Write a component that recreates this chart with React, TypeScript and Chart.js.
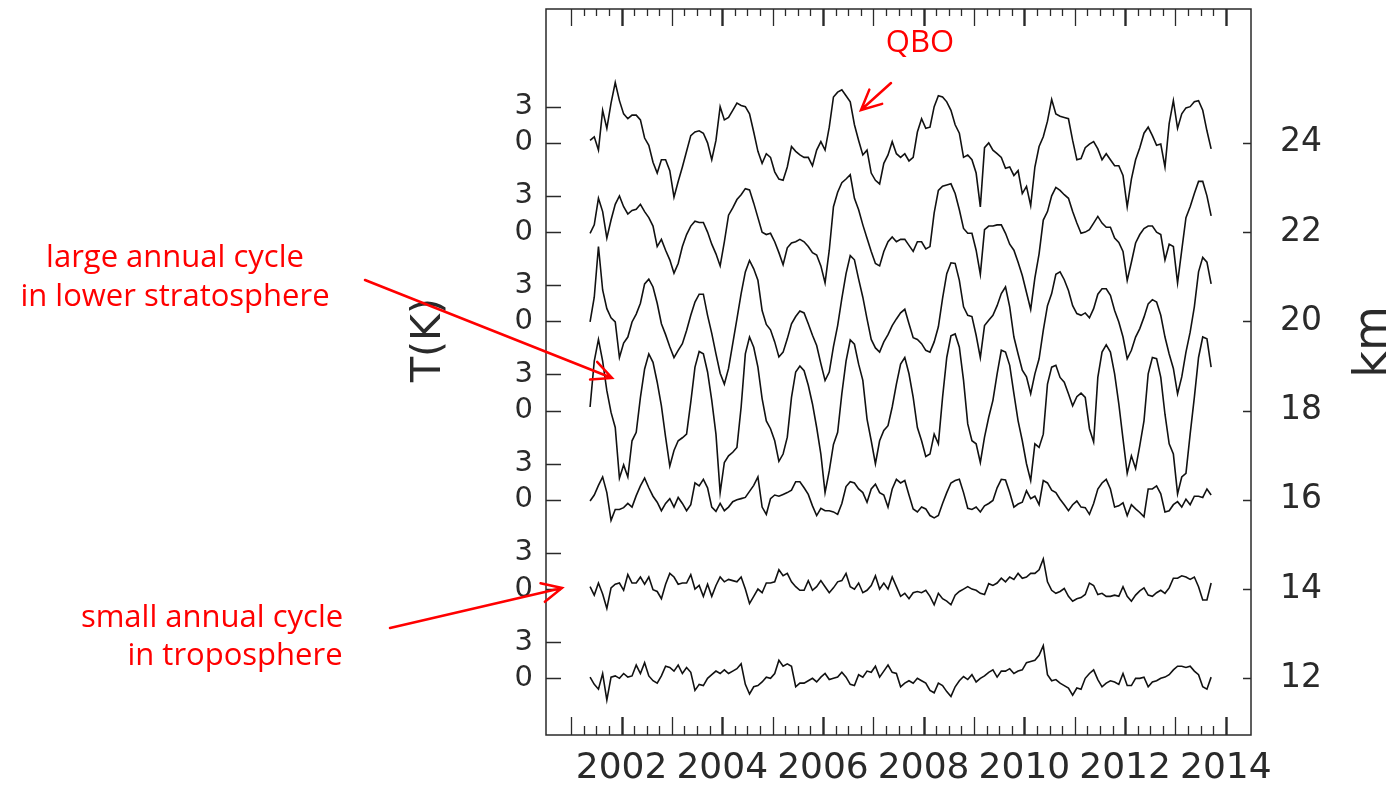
import React, { useEffect, useRef } from 'react';
import { Chart, registerables } from 'chart.js';

Chart.register(...registerables);

// ---- axes / layout values ----
const START_YEAR = 2001.375; // first monthly sample (mid-May 2001)
const X_MIN = 2000.5;
const X_MAX = 2014.5;
const Y_MIN = 10.73;
const Y_MAX = 27.0;
const KM_PER_K = 0.2705; // vertical scale of the temperature anomalies
const LEVELS_KM = [24, 22, 20, 18, 16, 14, 12];
const YEAR_LABELS = [2002, 2004, 2006, 2008, 2010, 2012, 2014];
const K_TICKS = [0, 3];
const FIRST_TICK_YEAR = 2001;
const LAST_TICK_YEAR = 2014;

// ---- temperature anomalies (K), monthly ----
const T24 = [
  0.2, 0.5, -0.6, 2.7, 1.2, 3.3, 5.0, 3.5, 2.4, 2.0,
  2.3, 2.3, 1.9, 0.4, -0.2, -1.6, -2.5, -1.4, -1.4, -2.3,
  -4.5, -3.2, -2.0, -0.7, 0.6, 0.9, 1.0, 0.8, 0.0, -1.4,
  0.2, 3.0, 1.9, 2.1, 2.7, 3.3, 3.1, 3.0, 2.4, 0.9,
  -0.7, -1.7, -0.9, -1.2, -2.4, -3.0, -3.1, -2.0, -0.3, -0.7,
  -1.0, -1.2, -1.2, -1.9, -0.6, 0.1, -0.6, 1.3, 3.8, 4.2,
  4.4, 3.9, 3.4, 1.5, 0.2, -1.0, -0.6, -2.5, -3.1, -3.4,
  -1.7, -1.0, 0.1, -0.9, -1.2, -0.9, -1.5, -1.2, 0.9, 2.0,
  1.2, 1.3, 3.0, 3.9, 3.8, 3.4, 2.7, 1.5, 0.8, -1.2,
  -1.0, -1.4, -2.5, -5.3, -0.4, 0.0, -0.6, -0.9, -1.2, -2.1,
  -2.0, -2.7, -2.3, -4.2, -3.6, -5.2, -2.0, -0.3, 0.5, 1.8,
  3.6, 2.4, 2.2, 2.1, 2.0, 0.2, -1.4, -1.3, -0.4, -0.1,
  0.1, -0.5, -1.4, -0.9, -1.4, -1.9, -1.9, -2.7, -5.3, -3.0,
  -1.4, -0.4, 0.8, 1.3, 0.6, -0.2, -0.1, -2.0, 1.6, 3.5,
  1.2, 2.4, 2.9, 3.0, 3.4, 3.5, 2.7, 1.0, -0.5,
];
const T22 = [
  -0.1, 0.6, 2.8, 1.7, -0.5, 1.0, 2.3, 3.0, 2.1, 1.5,
  1.8, 1.9, 2.3, 1.7, 1.2, 0.5, -1.2, -0.6, -1.5, -2.3,
  -3.4, -2.6, -1.2, -0.2, 0.5, 0.9, 0.8, 0.8, 0.0, -1.0,
  -1.8, -2.8, -0.8, 1.4, 2.0, 2.7, 3.1, 3.6, 3.5, 2.4,
  1.2, 0.0, -0.2, -0.1, -0.8, -1.7, -2.7, -1.3, -0.9, -0.8,
  -0.6, -0.8, -1.2, -1.7, -1.9, -2.8, -4.2, -1.5, 2.1, 3.3,
  4.1, 4.4, 4.75, 2.8, 1.85, 0.6, -0.5, -1.6, -2.6, -2.8,
  -1.6, -0.8, -0.4, -0.8, -0.6, -0.6, -1.1, -1.6, -0.8, -0.8,
  -1.4, -1.2, 1.6, 3.45, 3.8, 3.9, 4.0, 3.2, 1.85, 0.3,
  -0.1, -0.1, -1.5, -3.5, 0.2, 0.5, 0.5, 0.6, 0.6, -0.1,
  -1.0, -1.5, -2.5, -3.6, -5.0, -6.4, -3.8, -1.8, 1.0, 1.7,
  3.0, 3.7, 3.45, 3.1, 2.8, 1.7, 0.75, -0.1, 0.0, 0.2,
  0.75, 1.3, 0.75, 0.4, 0.4, -0.5, -0.85, -1.6, -4.0, -2.5,
  -0.9, -0.2, 0.3, 0.5, 0.5, 0.0, -0.2, -2.3, -1.0, -1.2,
  -4.2, -1.5, 1.2, 2.1, 3.2, 4.2, 4.2, 3.0, 1.35,
];
const T20 = [
  -0.05, 2.0, 6.2, 2.6, 1.05, 0.3, -0.05, -3.0, -1.8, -1.3,
  -0.05, 0.6, 1.5, 3.1, 3.5, 2.85, 1.5, -0.2, -1.1, -2.1,
  -3.0, -2.4, -1.85, -0.75, 0.5, 1.6, 2.25, 2.25, 0.5, -1.0,
  -2.7, -4.3, -5.2, -3.9, -1.85, 0.2, 2.3, 4.1, 5.05, 4.35,
  3.4, 0.9, -0.25, -0.7, -1.7, -2.95, -2.55, -1.45, -0.2, 0.4,
  0.85, 0.7, -0.2, -1.15, -2.0, -3.5, -4.9, -4.2, -2.1, -0.35,
  1.9, 3.95, 5.45, 5.1, 3.5, 2.0, 0.2, -1.5, -2.2, -2.55,
  -1.7, -1.1, -0.35, 0.2, 0.7, 1.0, -0.2, -1.35, -1.5, -1.85,
  -2.4, -2.55, -1.7, -0.45, 1.9, 3.95, 4.85, 4.8, 3.4, 1.2,
  0.5, 0.4, -1.15, -3.0, -0.35, 0.1, 0.5, 1.3, 2.3, 2.85,
  1.2, -1.3, -2.7, -4.05, -4.6, -6.0, -4.35, -3.1, -0.75, 1.3,
  2.3, 3.9, 4.1, 3.45, 2.55, 1.3, 0.65, 0.5, 0.7, 0.3,
  1.05, 2.25, 2.7, 2.7, 2.15, 0.9, -0.05, -1.3, -3.1, -2.4,
  -1.3, -0.6, 0.35, 1.45, 1.8, 1.6, 0.5, -1.3, -2.7, -3.9,
  -6.0, -4.6, -2.55, -0.9, 1.2, 4.1, 5.3, 4.9, 3.1,
];
const T18 = [
  0.3, 4.1, 5.9, 4.1, 1.65, -0.15, -1.4, -5.6, -4.5, -5.5,
  -2.5, -1.8, 1.1, 3.45, 4.7, 4.0, 2.35, 0.4, -2.2, -4.6,
  -3.3, -2.5, -2.25, -1.95, 0.7, 3.6, 4.9, 4.7, 3.2, 0.85,
  -1.95, -6.8, -4.3, -3.75, -3.45, -3.05, 0.3, 4.7, 6.1, 5.25,
  3.6, 1.0, -0.85, -1.5, -2.5, -4.2, -3.6, -2.2, 1.1, 3.2,
  3.7, 3.3, 2.1, 0.55, -1.4, -3.6, -6.8, -5.0, -2.8, -1.8,
  1.4, 4.1, 5.85, 5.5, 3.85, 2.5, -0.7, -2.5, -4.4, -2.5,
  -1.65, -1.25, 0.3, 2.2, 3.85, 4.4, 3.05, 1.1, -1.4, -2.5,
  -3.8, -3.6, -1.95, -2.75, 1.1, 4.4, 6.2, 6.35, 5.25, 2.5,
  -1.1, -2.5, -2.75, -4.3, -2.2, -0.55, 0.85, 3.05, 5.0, 4.85,
  3.75, 1.4, -0.85, -2.5, -4.4, -5.8, -2.75, -3.05, -1.95, 2.2,
  3.6, 3.75, 2.75, 2.35, 1.4, 0.4, 1.15, 1.45, 1.1, -1.5,
  -2.6, 2.75, 4.85, 5.45, 4.85, 3.05, 0.55, -2.35, -5.2, -3.75,
  -4.8, -2.9, -0.85, 3.05, 4.4, 4.3, 2.75, -0.3, -2.75, -3.6,
  -6.9, -5.5, -5.2, -1.95, 1.1, 4.4, 6.1, 5.95, 3.6,
];
const T16 = [
  -0.1, 0.4, 1.2, 1.9, 0.6, -1.7, -0.8, -0.8, -0.65, -0.3,
  -0.6, 0.35, 1.15, 1.8, 1.0, 0.3, -0.2, -0.9, -0.3, 0.1,
  -0.6, 0.2, -0.3, -0.9, -0.4, 1.4, 1.15, 1.7, 1.0, -0.6,
  -0.95, -0.3, -0.9, -0.6, -0.15, 0.0, 0.1, 0.2, 0.7, 1.2,
  1.9, -0.6, -1.2, 0.1, 0.4, 0.3, 0.45, 0.6, 0.8, 1.5,
  1.5, 1.0, 0.45, -0.5, -1.3, -0.7, -0.9, -0.9, -1.0, -1.2,
  -0.3, 1.1, 1.5, 1.4, 0.9, 0.6, -0.2, 0.9, 1.3, 0.6,
  0.4, -0.6, 0.9, 1.7, 1.4, 1.6, 0.4, -0.75, -1.0, -0.6,
  -0.75, -1.3, -1.5, -1.3, -0.3, 0.6, 1.4, 1.6, 1.7, 0.6,
  -0.7, -0.8, -0.6, -1.0, -0.5, -0.3, -0.05, 1.0, 1.7, 1.65,
  0.6, -0.6, -0.35, -0.2, 0.75, 0.1, 0.3, -0.4, 1.6, 1.4,
  0.8, 0.6, 0.05, -0.4, -0.9, -0.4, -0.1, -0.6, -0.65, -1.2,
  -0.3, 0.9, 1.4, 1.7, 0.9, -0.6, -0.5, -0.25, -1.3, -0.4,
  -0.75, -1.05, -1.4, 0.9, 0.9, 1.15, 0.5, -1.0, -0.9, -0.4,
  -0.15, -0.6, 0.05, -0.4, 0.3, 0.3, 0.2, 0.9, 0.4,
];
const T14 = [
  0.2, -0.5, 0.5, -0.4, -1.6, 0.1, 0.4, 0.5, -0.1, 1.2,
  0.5, 0.5, 1.0, 0.4, 1.0, -0.05, -0.2, -0.8, 0.4, 1.3,
  1.0, 0.4, 0.5, 0.5, 1.2, 0.0, 0.3, -0.6, 0.4, -0.6,
  0.3, 1.0, 0.6, 0.8, 0.7, 0.6, 1.0, 0.0, -1.2, -0.6,
  0.0, -0.3, 0.5, 0.5, 0.6, 1.6, 1.1, 1.3, 0.6, 0.2,
  -0.1, -0.1, 0.7, -0.1, 0.2, 0.7, 0.2, -0.3, 0.1, 0.6,
  0.7, 1.3, 0.2, 0.0, 0.5, -0.3, -0.1, 0.3, 1.1, 0.0,
  0.5, 0.0, 1.0, 0.2, -0.6, -0.35, -0.8, -0.3, -0.2, -0.3,
  -0.1, -0.6, -1.3, -0.35, -0.8, -1.0, -1.3, -0.5, -0.2, 0.0,
  0.2, 0.0, -0.1, -0.35, -0.45, 0.45, 0.3, 0.5, 0.9, 0.6,
  1.0, 0.8, 1.3, 0.9, 1.0, 1.3, 1.3, 1.6, 2.5, 0.6,
  -0.1, -0.35, -0.2, 0.05, -0.6, -1.0, -0.8, -0.7, -0.45, 0.5,
  0.3, -0.45, -0.35, -0.6, -0.6, -0.5, -0.6, 0.2, -0.6, -1.0,
  -0.5, -0.15, 0.1, -0.5, -0.6, -0.3, -0.1, -0.35, 0.1, 0.9,
  0.9, 1.1, 1.0, 0.8, 1.0, 0.2, -0.9, -0.9, 0.5,
];
const T12 = [
  0.1, -0.5, -0.9, 0.4, -1.8, 0.1, 0.2, 0.0, 0.4, 0.1,
  0.2, 1.1, 0.4, 1.3, 0.2, -0.2, -0.4, 0.2, 1.0, 0.9,
  0.6, 1.1, 0.4, 0.9, 0.5, -1.0, -0.5, -0.6, 0.0, 0.3,
  0.6, 0.4, 0.7, 0.4, 0.6, 0.8, 1.2, -0.5, -1.3, -0.7,
  -0.6, -0.3, 0.1, 0.0, 0.4, 1.5, 1.0, 1.2, 1.0, -0.7,
  -0.4, -0.4, -0.2, 0.0, -0.3, 0.1, 0.4, -0.1, 0.0, 0.1,
  0.5, 0.1, -0.5, -0.6, 0.3, 0.1, 0.6, 0.5, 1.0, 0.1,
  0.6, 1.1, 0.5, 0.4, -0.7, -0.4, -0.2, -0.4, 0.0, -0.2,
  -0.4, -1.0, -1.2, -0.4, -0.6, -1.1, -1.5, -0.7, -0.2, 0.15,
  -0.1, 0.3, -0.3, 0.0, 0.2, 0.5, 0.7, 0.1, 0.6, 0.6,
  0.8, 0.4, 0.6, 0.7, 1.3, 1.4, 1.5, 1.9, 2.7, 0.3,
  -0.2, -0.1, -0.4, -0.6, -0.8, -1.4, -0.8, -0.9, 0.0, 0.4,
  0.7, -0.1, -0.7, -0.4, -0.2, -0.3, -0.5, 0.4, -0.6, -0.6,
  0.0, 0.0, 0.1, -0.7, -0.3, -0.2, 0.0, 0.1, 0.3, 0.7,
  1.0, 1.0, 0.9, 1.0, 0.6, 0.3, -0.7, -0.9, 0.1,
];
const SERIES = [T24, T22, T20, T18, T16, T14, T12];

// ---- annotation texts ----
const ANNOTATIONS = [
  { text: 'QBO', x: 920, y: 43 },
  { text: 'large annual cycle', x: 175, y: 258 },
  { text: 'in lower stratosphere', x: 175, y: 297 },
  { text: 'small annual cycle', x: 212, y: 618 },
  { text: 'in troposphere', x: 235, y: 656 },
];
const ARROWS = [
  { from: [891, 83], to: [861, 110] },
  { from: [365, 280], to: [612, 378] },
  { from: [390, 628], to: [562, 588] },
];

const AXIS_FONT = '"DejaVu Sans", "Liberation Sans", sans-serif';
const NOTE_FONT = '"Open Sans", "Noto Sans", sans-serif';
const AXIS_COLOR = '#2a2a2a';

// left axis ticks: 0 and 3 K for every level
const LEFT_TICKS: { value: number; label: string }[] = [];
for (const lv of [...LEVELS_KM].reverse()) {
  for (const k of K_TICKS) LEFT_TICKS.push({ value: lv + k * KM_PER_K, label: String(k) });
}
const RIGHT_TICKS = [...LEVELS_KM].reverse();

const zeroPadding = (s: any) => {
  s.paddingTop = 0;
  s.paddingBottom = 0;
  s.paddingLeft = 0;
  s.paddingRight = 0;
};

const framePlugin = {
  id: 'frame',
  afterDatasetsDraw(chart: any) {
    const { ctx, chartArea: a, scales } = chart;
    const xs = scales.x;
    const ys = scales.y;
    ctx.save();
    ctx.strokeStyle = AXIS_COLOR;
    ctx.lineCap = 'butt';
    ctx.lineWidth = 1.5;
    ctx.strokeRect(a.left, a.top, a.right - a.left, a.bottom - a.top);
    for (let q = FIRST_TICK_YEAR * 4; q <= LAST_TICK_YEAR * 4; q++) {
      const yr = q / 4;
      const px = Math.round(xs.getPixelForValue(yr)) + 0.5;
      const isYear = q % 4 === 0;
      const isEven = isYear && (q / 4) % 2 === 0;
      ctx.lineWidth = isEven ? 2.4 : 1.3;
      const lb = isYear ? 18 : 9;
      const lt = isYear ? 17 : 7;
      ctx.beginPath();
      ctx.moveTo(px, a.bottom);
      ctx.lineTo(px, a.bottom - lb);
      ctx.moveTo(px, a.top);
      ctx.lineTo(px, a.top + lt);
      ctx.stroke();
    }
    ctx.lineWidth = 1.5;
    for (const t of LEFT_TICKS) {
      const py = Math.round(ys.getPixelForValue(t.value)) + 0.5;
      ctx.beginPath();
      ctx.moveTo(a.left, py);
      ctx.lineTo(a.left + 15, py);
      ctx.stroke();
    }
    for (const lv of RIGHT_TICKS) {
      const py = Math.round(ys.getPixelForValue(lv)) + 0.5;
      ctx.beginPath();
      ctx.moveTo(a.right, py);
      ctx.lineTo(a.right - 8, py);
      ctx.stroke();
    }
    ctx.restore();
  },
  afterDraw(chart: any) {
    const { ctx } = chart;
    ctx.save();
    ctx.fillStyle = AXIS_COLOR;
    ctx.textAlign = 'center';
    ctx.textBaseline = 'middle';
    ctx.font = `41px ${AXIS_FONT}`;
    ctx.translate(429, 340);
    ctx.rotate(-Math.PI / 2);
    ctx.fillText('T(K)', 0, 0);
    ctx.setTransform(1, 0, 0, 1, 0, 0);
    ctx.font = `46px ${AXIS_FONT}`;
    ctx.translate(1374, 342);
    ctx.rotate(-Math.PI / 2);
    ctx.fillText('km', 0, 0);
    ctx.setTransform(1, 0, 0, 1, 0, 0);
    ctx.fillStyle = '#ff0000';
    ctx.strokeStyle = '#ff0000';
    ctx.font = `31px ${NOTE_FONT}`;
    for (const n of ANNOTATIONS) ctx.fillText(n.text, n.x, n.y);
    ctx.lineWidth = 2.5;
    ctx.lineCap = 'round';
    for (const ar of ARROWS) {
      const [x1, y1] = ar.from;
      const [x2, y2] = ar.to;
      const ang = Math.atan2(y2 - y1, x2 - x1);
      const L = 22;
      ctx.beginPath();
      ctx.moveTo(x1, y1);
      ctx.lineTo(x2, y2);
      ctx.moveTo(x2 - L * Math.cos(ang - 0.45), y2 - L * Math.sin(ang - 0.45));
      ctx.lineTo(x2, y2);
      ctx.lineTo(x2 - L * Math.cos(ang + 0.45), y2 - L * Math.sin(ang + 0.45));
      ctx.stroke();
    }
    ctx.restore();
  },
};

export default function App() {
  const ref = useRef<HTMLCanvasElement>(null);
  useEffect(() => {
    const canvas = ref.current;
    if (!canvas) return;
    const datasets = SERIES.map((vals, s) => ({
      label: `${LEVELS_KM[s]} km`,
      data: vals.map((v, i) => ({ x: START_YEAR + i / 12, y: LEVELS_KM[s] + v * KM_PER_K })),
      borderColor: '#111111',
      borderWidth: 1.6,
      pointRadius: 0,
      tension: 0,
      fill: false,
    }));
    const tickFont = (size: number) => ({ family: AXIS_FONT, size, weight: 'normal' as const });
    const chart = new Chart(canvas, {
      type: 'line',
      data: { datasets },
      options: {
        animation: false,
        responsive: false,
        maintainAspectRatio: false,
        layout: { autoPadding: false, padding: { top: 9, left: 0, right: 0, bottom: 0 } },
        plugins: { legend: { display: false }, tooltip: { enabled: false } },
        scales: {
          x: {
            type: 'linear',
            position: 'bottom',
            min: X_MIN,
            max: X_MAX,
            grid: { display: false, drawTicks: false },
            border: { display: false },
            afterBuildTicks: (s: any) => {
              s.ticks = YEAR_LABELS.map((v) => ({ value: v }));
            },
            afterFit: (s: any) => {
              s.height = 52;
              zeroPadding(s);
            },
            ticks: {
              autoSkip: false,
              maxRotation: 0,
              minRotation: 0,
              padding: 12,
              color: AXIS_COLOR,
              font: tickFont(36),
              callback: (v: any) => String(v),
            },
          },
          y: {
            type: 'linear',
            position: 'left',
            min: Y_MIN,
            max: Y_MAX,
            grid: { display: false, drawTicks: false },
            border: { display: false },
            afterBuildTicks: (s: any) => {
              s.ticks = LEFT_TICKS.map((t) => ({ value: t.value }));
            },
            afterFit: (s: any) => {
              s.width = 546;
              zeroPadding(s);
            },
            ticks: {
              autoSkip: false,
              padding: 13,
              color: AXIS_COLOR,
              font: tickFont(29),
              callback: (_v: any, i: number) => LEFT_TICKS[i].label,
            },
          },
          y2: {
            type: 'linear',
            position: 'right',
            min: Y_MIN,
            max: Y_MAX,
            grid: { display: false, drawTicks: false },
            border: { display: false },
            afterBuildTicks: (s: any) => {
              s.ticks = RIGHT_TICKS.map((v) => ({ value: v }));
            },
            afterFit: (s: any) => {
              s.width = 144;
              zeroPadding(s);
            },
            ticks: {
              autoSkip: false,
              padding: 29,
              color: AXIS_COLOR,
              font: tickFont(33),
              callback: (v: any) => String(v),
            },
          },
        },
      },
      plugins: [framePlugin],
    } as any);
    return () => chart.destroy();
  }, []);
  return (
    <div style={{ position: 'fixed', left: 0, top: 0, width: 1395, height: 787, background: '#fff' }}>
      <canvas ref={ref} width={1395} height={787} style={{ display: 'block' }} />
    </div>
  );
}
